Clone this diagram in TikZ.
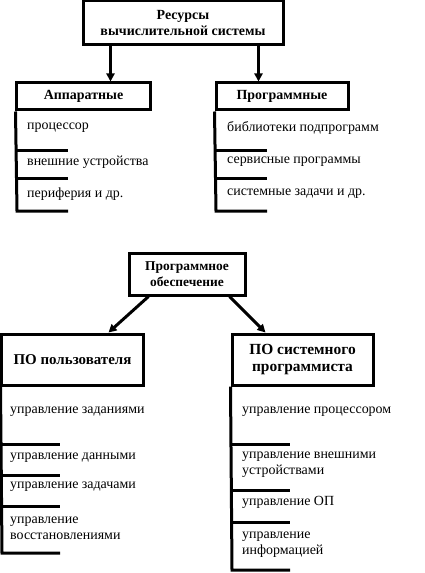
\documentclass[tikz,border=0pt]{standalone}
\usepackage{fontspec}
\setmainfont{Liberation Serif}
\usetikzlibrary{arrows.meta}
\tikzset{
  headbox/.style={draw , line width=3bp , align=center , inner sep=0pt , font=\bfseries\fontsize{14}{17}\selectfont},
  item/.style={anchor=west , align=left , inner sep=0pt , font=\fontsize{14}{16}\selectfont},
  rail/.style={line width=3bp},
  arr/.style={line width=3bp , -{Triangle[length=8bp , width=8bp]}}
}
\begin{document}
\begin{tikzpicture}[x=1bp , y=-1bp]
    \useasboundingbox (0,0) rectangle (424,573);
    \node [headbox , minimum width=200bp , minimum height=44bp ] (res) at (183,23) {Ресурсы\\вычислительной системы};
    \node [headbox , minimum width=133bp , minimum height=27bp ] (hw) at (83.5,96.5) {Аппаратные};
    \node [headbox , minimum width=132bp , minimum height=27bp ] (sw) at (282,96.5) {Программные};
    \coordinate (res1) at ([xshift=29bp]res.south west);
    \coordinate (res2) at ([xshift=-26bp]res.south east);
    \path[arr] (res1) edge (res1 |- hw.north);
    \path[arr] (res2) edge (res2 |- sw.north);
    \node [item] (hw1) at (27,128) {процессор};
    \node [item] (hw2) at (27,162) {внешние устройства};
    \node [item] (hw3) at (27,194) {периферия и др.};
    \draw [rail] (hw.south west) -- (17,211) -- (68,211);
    \draw [rail] (17,151) -- (68,151);
    \draw [rail] (17,178) -- (68,178);
    \node [item] (sw1) at (227,128) {библиотеки подпрограмм};
    \node [item] (sw2) at (227,162) {сервисные программы};
    \node [item] (sw3) at (227,194) {системные задачи и др.};
    \draw [rail] (sw.south west) -- (216,211) -- (267,211);
    \draw [rail] (216,151) -- (267,151);
    \draw [rail] (216,178) -- (267,178);
    \node [headbox , minimum width=116bp , minimum height=42bp , font=\bfseries\fontsize{13.5}{16}\selectfont ] (po) at (187,274) {Программное\\обеспечение};
    \node [headbox , minimum width=141bp , minimum height=51bp , font=\bfseries\fontsize{15}{18}\selectfont ] (user) at (72.5,359.5) {ПО пользователя};
    \node [headbox , minimum width=141bp , minimum height=51bp , font=\bfseries\fontsize{15.5}{18}\selectfont ] (sys) at (302.5,359.5) {ПО системного\\программиста};
    \path[arr] ([xshift=21bp]po.south west) edge ([xshift=108bp]user.north west);
    \path[arr] ([xshift=-17bp]po.south east) edge ([xshift=35bp]sys.north west);
    \node [item] (user1) at (10,412) {управление заданиями};
    \node [item] (user2) at (10,458) {управление данными};
    \node [item] (user3) at (10,487) {управление задачами};
    \node [item] (user4) at (10,528.5) {управление\\восстановлениями};
    \draw [rail] (user.south west) -- (2,553) -- (60,553);
    \draw [rail] (2,444) -- (60,444);
    \draw [rail] (2,475) -- (60,475);
    \draw [rail] (2,506) -- (60,506);
    \node [item] (sys1) at (242,412) {управление процессором};
    \node [item] (sys2) at (242,465) {управление внешними\\устройствами};
    \node [item] (sys3) at (242,502) {управление ОП};
    \node [item] (sys4) at (242,544.5) {управление\\информацией};
    \draw [rail] (sys.south west) -- (232,570) -- (290,570);
    \draw [rail] (232,444) -- (290,444);
    \draw [rail] (232,490) -- (290,490);
    \draw [rail] (232,522) -- (290,522);
\end{tikzpicture}
\end{document}
